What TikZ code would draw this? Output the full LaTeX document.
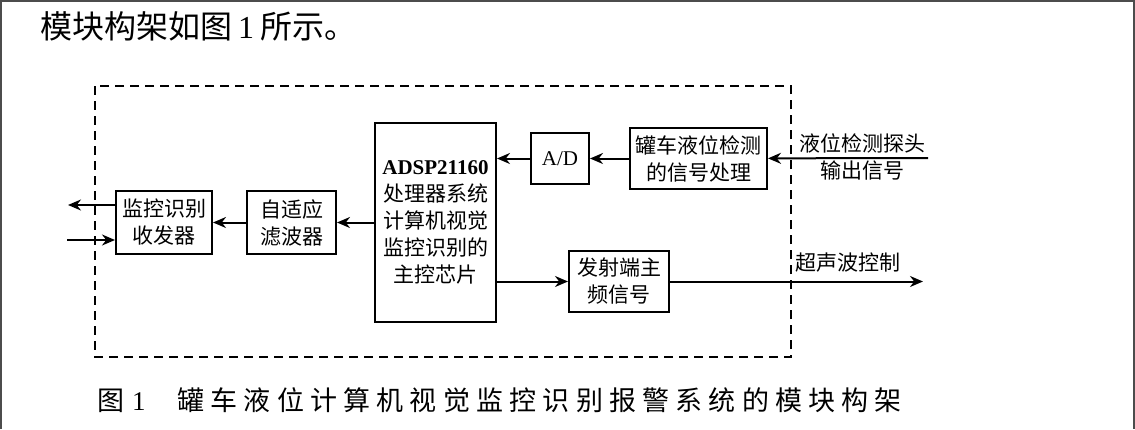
\documentclass[tikz,border=0pt]{standalone}
\usepackage{fontspec}
\setmainfont{Liberation Serif}
\newfontfamily\cjk{Noto Sans CJK SC}
\newfontfamily\cjkcap[LetterSpace=23]{Noto Sans CJK SC}
\usetikzlibrary{arrows.meta, positioning}

\begin{document}
\begin{tikzpicture}[
            ->,
            >={Stealth[length=13pt, width=11pt]},
            x=1pt, y=-1pt,
            line width=2pt,
            node distance=35pt
        ]
        \tikzstyle{block}=[draw=black, fill=white, align=center, inner sep=0pt, font=\cjk\fontsize{21}{27}\selectfont]
        \tikzstyle{sigtext}=[align=center, inner sep=0pt, font=\cjk\fontsize{21}{27}\selectfont]
        \tikzstyle{every edge}=[draw=black, line width=2pt]

        \useasboundingbox (0,0) rectangle (1135,429);
        \draw[-, gray!60!black, line width=2pt] (1,429) -- (1,1) -- (1134,1) -- (1134,429);

        % text above and below the figure
        \node[anchor=west, inner sep=0pt, font=\cjk\fontsize{32}{32}\selectfont] (head) at (39,26)
            {模块构架如图\hspace{6pt}{\rmfamily 1}\hspace{6pt}所示。};
        \node[anchor=west, inner sep=0pt, font=\cjkcap\fontsize{27}{27}\selectfont] (caption) at (96,400)
            {图\hspace{8pt}{\rmfamily 1}\hspace{32pt}罐车液位计算机视觉监控识别报警系统的模块构架};

        % module boundary
        \draw[-, dash pattern=on 9pt off 6pt, line width=1.8pt] (95,86) rectangle (791,357);

        \node[block, minimum width=121pt, minimum height=199pt] (main) at (435.5,222.5)
            {{\rmfamily\bfseries ADSP21160}\\处理器系统\\计算机视觉\\监控识别的\\主控芯片};
        \node[block, minimum width=89pt, minimum height=63pt] (filter) [left=37pt of main] {自适应\\滤波器};
        \node[block, minimum width=96pt, minimum height=63pt] (trx) [left=33pt of filter] {监控识别\\收发器};
        \node[block, minimum width=58pt, minimum height=51pt] (ad) [right=33pt of main.east, yshift=64pt] {\rmfamily A/D};
        \node[block, minimum width=137pt, minimum height=61pt] (sig) [right=39pt of ad] {罐车液位检测\\的信号处理};
        \node[block, minimum width=100pt, minimum height=61pt] (tx) [right=71pt of main.east, yshift=-59pt] {发射端主\\频信号};

        \coordinate (probe) at (928,158);
        \coordinate (ultra) at (923,281.5);
        \coordinate (alarm) at (68,205);
        \coordinate (video) at (67,240);

        \node[sigtext] (probetext) at (862,157) {液位检测探头\\输出信号};
        \node[sigtext] (ultratext) at (848,263) {超声波控制};

        \path (probe) edge (sig)
        (sig) edge (ad)
        (ad) edge (main.east |- ad)
        (main.east |- tx) edge (tx)
        (tx) edge (ultra)
        (main) edge (filter)
        (filter) edge (trx)
        (trx.west |- alarm) edge (alarm)
        (video) edge (trx.west |- video);
    \end{tikzpicture}
\end{document}
